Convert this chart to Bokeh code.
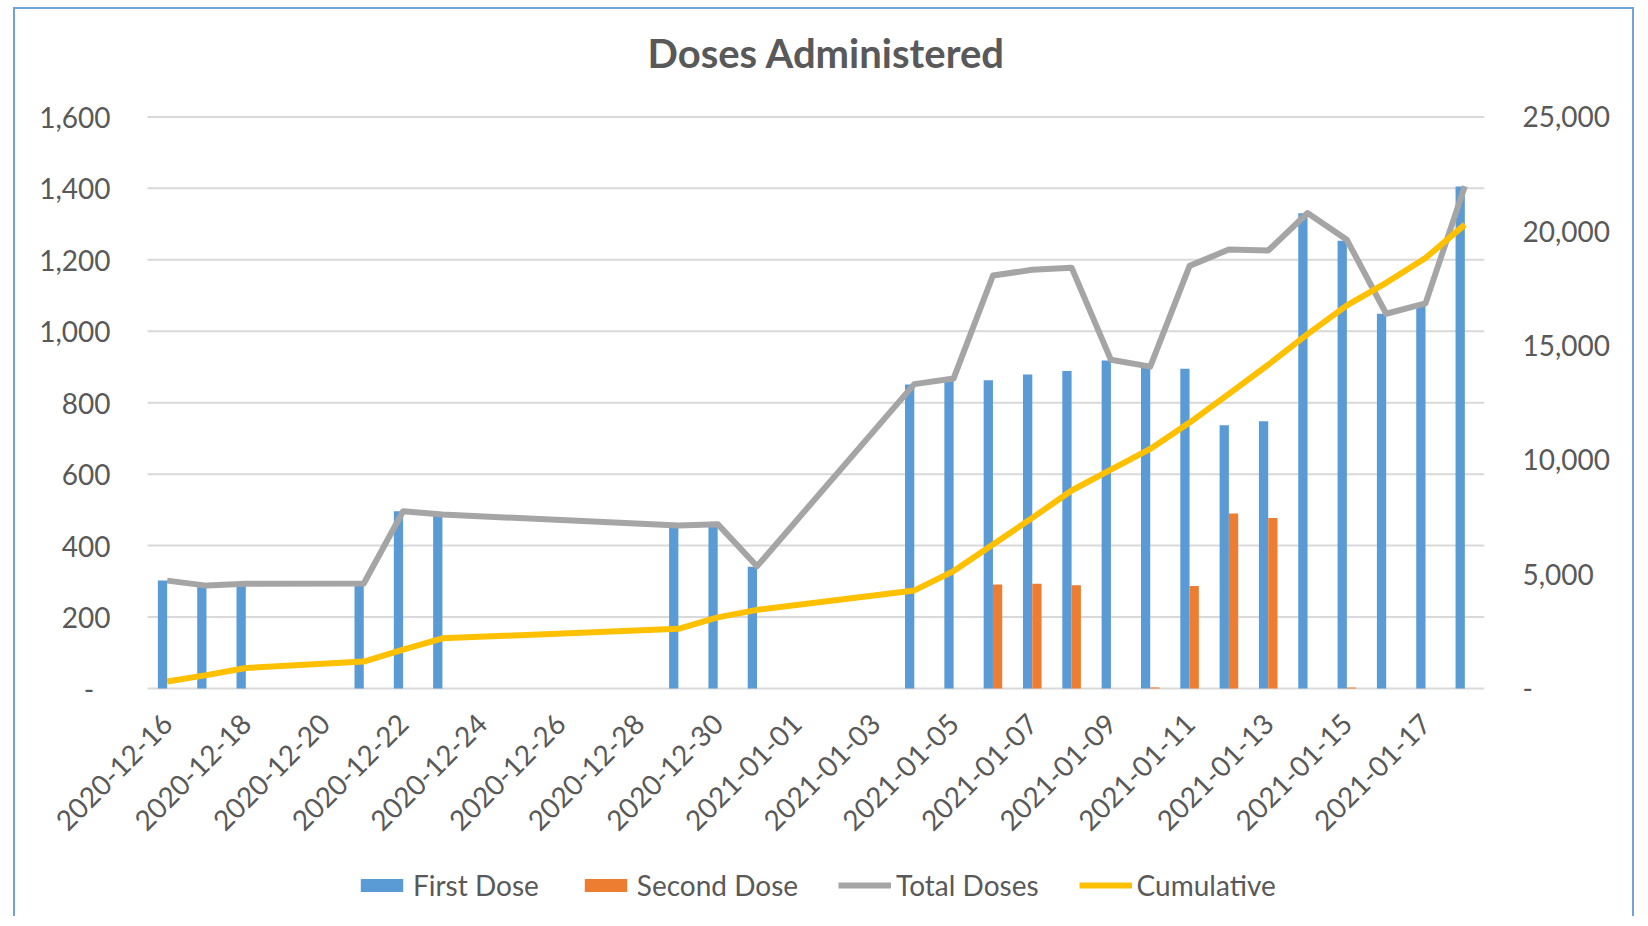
import math
import pandas as pd
from bokeh.plotting import figure
from bokeh.core.properties import value
from bokeh.models import (ColumnDataSource, Range1d, LinearAxis, FixedTicker, Title,
                          CustomJSTickFormatter, Legend, LegendItem)
from bokeh.embed import file_html
from bokeh.resources import INLINE

# ---------------- data ----------------
dates = ["2020-12-16", "2020-12-17", "2020-12-18", "2020-12-21", "2020-12-22", "2020-12-23",
         "2020-12-29", "2020-12-30", "2020-12-31", "2021-01-04", "2021-01-05", "2021-01-06",
         "2021-01-07", "2021-01-08", "2021-01-09", "2021-01-10", "2021-01-11", "2021-01-12",
         "2021-01-13", "2021-01-14", "2021-01-15", "2021-01-16", "2021-01-17", "2021-01-18"]
first_dose = [302, 288, 293, 294, 496, 487, 453, 456, 341, 851, 866, 863,
              879, 889, 918, 897, 895, 737, 748, 1330, 1253, 1049, 1072, 1405]
second_dose = [0, 0, 0, 0, 0, 0, 0, 0, 0, 0, 0, 291,
               293, 289, 0, 3, 287, 490, 477, 0, 3, 0, 0, 0]
total_doses = [302, 288, 293, 294, 496, 487, 456, 460, 342, 852, 868, 1156,
               1172, 1178, 920, 901, 1183, 1229, 1226, 1331, 1256, 1049, 1078, 1406]
cumulative = [306, 586, 895, 1180, 1695, 2195, 2610, 3110, 3440, 4290, 5135, 6298,
              7462, 8660, 9570, 10480, 11630, 12886, 14160, 15500, 16760, 17745, 18830, 20290]
tick_labels = ["2020-12-16", "2020-12-18", "2020-12-20", "2020-12-22", "2020-12-24",
               "2020-12-26", "2020-12-28", "2020-12-30", "2021-01-01", "2021-01-03",
               "2021-01-05", "2021-01-07", "2021-01-09", "2021-01-11", "2021-01-13",
               "2021-01-15", "2021-01-17"]
left_ticks = [0, 200, 400, 600, 800, 1000, 1200, 1400, 1600]
right_ticks = [0, 5000, 10000, 15000, 20000, 25000]

# ---------------- styling / layout ----------------
FONT = "Lato"
TXT = "#595959"
GRID = "#D9D9D9"
BLUE = "#5B9BD5"
ORANGE = "#ED7D31"
GRAY = "#A5A5A5"
YELLOW = "#FFC000"
BORDER = "#6FA3DC"
DAY = 86400000.0
BAR_W = 0.236 * DAY
PX_PER_UNIT = 571.6 / 1600.0       # left-axis scale (px per dose)
RIGHT_FACTOR = 15.625              # 25,000 / 1,600
EXTRA_LEFT_DAYS = 107.0 / 1337.0 * 34.0  # room left of the plot area for the date labels
Y_START = -224.0 / PX_PER_UNIT     # room below zero for dates + legend
Y_END = 1600 + 2.4 / PX_PER_UNIT
LABEL_Y = -30.0 / PX_PER_UNIT

dt = pd.to_datetime(dates)
ms = (dt.astype("int64") // 10**6).astype(float)
src = ColumnDataSource(dict(
    date=dt,
    x1=ms - BAR_W / 2,
    x2=ms + BAR_W / 2,
    first=first_dose,
    second=second_dose,
    total=total_doses,
    cum=cumulative,
))

area_start = float(ms[0]) - 0.5 * DAY
area_end = float(ms[-1]) + 0.5 * DAY
x_start = area_start - EXTRA_LEFT_DAYS * DAY

p = figure(frame_width=1444, frame_height=798, output_backend="svg", toolbar_location=None,
           x_range=Range1d(x_start, area_end), y_range=Range1d(Y_START, Y_END),
           x_axis_location=None,
           min_border_left=25, min_border_right=148, min_border_top=105, min_border_bottom=4,
           margin=(7, 0, 0, 13))
p.styles = {"border-left": f"2px solid {BORDER}", "border-right": f"2px solid {BORDER}",
            "border-top": f"2px solid {BORDER}"}
p.extra_y_ranges = {"cum": Range1d(Y_START * RIGHT_FACTOR, Y_END * RIGHT_FACTOR)}
p.outline_line_color = None
p.background_fill_color = "white"
p.border_fill_color = "white"
p.xgrid.grid_line_color = None
p.ygrid.grid_line_color = None

# spacer between the title and the plot area
p.add_layout(Title(text=" ", text_font_size="1px", standoff=18), "above")

# title
p.title.text = "Doses Administered"
p.title.align = "left"
p.title.offset = 607
p.title.text_font = FONT
p.title.text_font_style = "bold"
p.title.text_font_size = "40px"
p.title.text_color = TXT
p.title.standoff = 34

# horizontal gridlines across the plot area
grid_src = ColumnDataSource(dict(x0=[area_start] * len(left_ticks),
                                 x1=[area_end] * len(left_ticks),
                                 y=left_ticks))
p.segment(x0="x0", x1="x1", y0="y", y1="y", source=grid_src, line_color=GRID, line_width=2)

# bars
r1 = p.vbar(x="x1", top="first", width=BAR_W, source=src, fill_color=BLUE, line_color=None)
r2 = p.vbar(x="x2", top="second", width=BAR_W, source=src, fill_color=ORANGE, line_color=None)
# lines
r3 = p.line(x="date", y="total", source=src, line_color=GRAY, line_width=6, line_join="round")
r4 = p.line(x="date", y="cum", source=src, line_color=YELLOW, line_width=6, line_join="round",
            y_range_name="cum")

# date labels (rotated 45 degrees, ending at each tick date)
lab_src = ColumnDataSource(dict(x=pd.to_datetime(tick_labels),
                                y=[LABEL_Y] * len(tick_labels),
                                text=tick_labels))
p.text(x="x", y="y", text="text", source=lab_src, angle=math.pi / 4,
       text_align="right", text_baseline="middle",
       text_font=value(FONT), text_font_size="28px", text_color=TXT)

fmt_left = CustomJSTickFormatter(code="""
if (tick == 0) { return '-\\u2007'; }
return Math.round(tick).toString().replace(/\\B(?=(\\d{3})+(?!\\d))/g, ',');
""")
fmt_right = CustomJSTickFormatter(code="""
if (tick == 0) { return '-'; }
return Math.round(tick).toString().replace(/\\B(?=(\\d{3})+(?!\\d))/g, ',');
""")

ya = p.yaxis[0]
ya.ticker = FixedTicker(ticks=left_ticks)
ya.formatter = fmt_left
ya.major_label_text_font = FONT
ya.major_label_text_font_size = "28px"
ya.major_label_text_color = TXT
ya.major_label_standoff = -70
ya.axis_line_color = None
ya.major_tick_line_color = None
ya.minor_tick_line_color = None
ya.major_tick_out = 0
ya.major_tick_in = 0

ra = LinearAxis(y_range_name="cum", ticker=FixedTicker(ticks=right_ticks), formatter=fmt_right)
ra.major_label_text_font = FONT
ra.major_label_text_font_size = "28px"
ra.major_label_text_color = TXT
ra.major_label_standoff = 38
ra.axis_line_color = None
ra.major_tick_line_color = None
ra.minor_tick_line_color = None
ra.major_tick_out = 0
ra.major_tick_in = 0
p.add_layout(ra, "right")

legend = Legend(items=[
    LegendItem(label="First Dose", renderers=[r1]),
    LegendItem(label="Second Dose", renderers=[r2]),
    LegendItem(label="Total Doses", renderers=[r3]),
    LegendItem(label="Cumulative", renderers=[r4]),
], orientation="horizontal", location=(315, 10))
legend.glyph_width = 53
legend.glyph_height = 16
legend.label_height = 34
legend.label_standoff = 5
legend.spacing = 40
legend.label_text_font = FONT
legend.label_text_font_size = "28px"
legend.label_text_color = TXT
legend.border_line_color = None
legend.background_fill_alpha = 0
legend.padding = 0
legend.margin = 0
p.add_layout(legend, "center")

open("out.html", "w").write(file_html(p, INLINE))
